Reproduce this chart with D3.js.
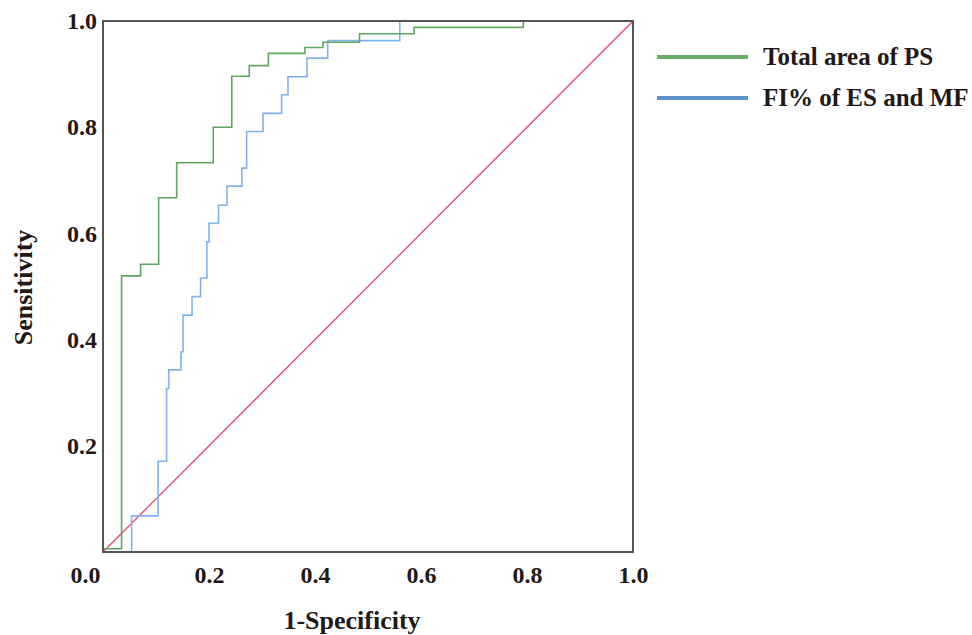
<!DOCTYPE html>
<html lang="en">
<head>
    <meta charset="UTF-8">
    <title>ROC curve</title>
    <style>
body { margin: 0; background: #fff; }
svg text {
            fill: #231815;
            font-family: "Liberation Serif", "Times New Roman", serif;
            font-weight: bold;
            font-size: 24px;
         }
svg text.title { font-size: 26px; }
svg text.legend { font-size: 25px; }
    </style>
</head>
<body>
<svg></svg>
<script src="https://d3js.org/d3.v7.min.js"></script>
<script>

// ROC points (1-specificity, sensitivity)
var greenFpr = [0, 0, 0.035, 0.071, 0.105, 0.139, 0.208, 0.243, 0.276, 0.312, 0.381, 0.415, 0.484, 0.587, 0.793, 1.0];
var greenTpr = [0, 0.006, 0.52, 0.542, 0.667, 0.733, 0.80, 0.896, 0.916, 0.939, 0.950, 0.960, 0.976, 0.988, 1.0, 1.0];

var blueFpr = [0, 0.054, 0.104, 0.120, 0.124, 0.147, 0.151, 0.168, 0.184, 0.196, 0.200, 0.218, 0.234, 0.262, 0.271, 0.302, 0.337, 0.349, 0.385, 0.424, 0.560, 1.0];
var blueTpr = [0, 0.068, 0.171, 0.308, 0.343, 0.377, 0.446, 0.481, 0.516, 0.584, 0.619, 0.653, 0.689, 0.723, 0.792, 0.826, 0.861, 0.895, 0.930, 0.963, 1.0, 1.0];

var refFpr = [0, 1];
var refTpr = [0, 1];

var ticks = [0, 0.2, 0.4, 0.6, 0.8, 1.0];
var seriesNames = ["Total area of PS", "FI% of ES and MF"];
var legendColors = ["#6aad6a", "#5b93c9"];

var svgWidth = 972, svgHeight = 635;
var margin = { top: 21, right: 339, bottom: 83, left: 103 };
var width = svgWidth - margin.left - margin.right;
var height = svgHeight - margin.top - margin.bottom;

var svg = d3.select('svg')
    .attr("width", svgWidth)
    .attr("height", svgHeight);

var g = svg.append("g")
    .attr("transform", "translate(" + margin.left + "," + margin.top + ")");

var x = d3.scaleLinear().domain([0, 1]).range([0, width]);
var y = d3.scaleLinear().domain([0, 1]).range([height, 0]);

function zip(a, b) {
    return a.map(function(v, i) { return [v, b[i]]; });
}

var step = d3.line()
    .x(function(d) { return x(d[0]); })
    .y(function(d) { return y(d[1]); })
    .curve(d3.curveStepAfter);

var straight = d3.line()
    .x(function(d) { return x(d[0]); })
    .y(function(d) { return y(d[1]); });

// axes (labels only, frame drawn separately)
var xAxis = g.append("g")
    .attr("transform", "translate(0," + height + ")")
    .call(d3.axisBottom(x).tickValues(ticks).tickSize(0).tickPadding(8).tickFormat(d3.format(".1f")));
xAxis.select(".domain").remove();
xAxis.selectAll("text")
    .attr("font-family", null).attr("font-size", null)
    .attr("dy", "0.95em");
// "0.0" sits left of the origin
xAxis.selectAll(".tick").filter(function(d) { return d === 0; })
    .select("text").attr("text-anchor", "end").attr("dx", -3);

var yAxis = g.append("g")
    .call(d3.axisLeft(y).tickValues(ticks.slice(1)).tickSize(0).tickPadding(6).tickFormat(d3.format(".1f")));
yAxis.select(".domain").remove();
yAxis.selectAll("text")
    .attr("font-family", null).attr("font-size", null);

// curves
g.append("path")
    .datum(zip(refFpr, refTpr))
    .attr("fill", "none")
    .attr("stroke", "#e8456b")
    .attr("stroke-width", 1.3)
    .attr("d", straight);

g.append("path")
    .datum(zip(blueFpr, blueTpr))
    .attr("fill", "none")
    .attr("stroke", "#7fb3f0")
    .attr("stroke-width", 1.6)
    .attr("d", step);

g.append("path")
    .datum(zip(greenFpr, greenTpr))
    .attr("fill", "none")
    .attr("stroke", "#5fa75f")
    .attr("stroke-width", 1.6)
    .attr("d", step);

// frame
g.append("rect")
    .attr("x", 0).attr("y", 0)
    .attr("width", width).attr("height", height)
    .attr("fill", "none")
    .attr("stroke", "#555")
    .attr("stroke-width", 2);

// axis titles
g.append("text")
    .attr("class", "title")
    .attr("x", width / 2 - 16)
    .attr("y", height + 77)
    .style("text-anchor", "middle")
    .text("1-Specificity");

g.append("text")
    .attr("class", "title")
    .attr("transform", "rotate(-90)")
    .attr("x", -(height / 2) - 1)
    .attr("y", -71)
    .style("text-anchor", "middle")
    .text("Sensitivity");

// legend
var legend = svg.append("g")
    .attr("transform", "translate(657,57)");

seriesNames.forEach(function(name, i) {
    var row = legend.append("g").attr("transform", "translate(0," + (i * 41) + ")");
    row.append("line")
        .attr("x1", 0).attr("x2", 91)
        .attr("y1", 0).attr("y2", 0)
        .attr("stroke", legendColors[i])
        .attr("stroke-width", 4);
    row.append("text")
        .attr("class", "legend")
        .attr("x", 106)
        .attr("y", 0)
        .attr("dy", "0.33em")
        .text(name);
});

</script>
</body>
</html>
